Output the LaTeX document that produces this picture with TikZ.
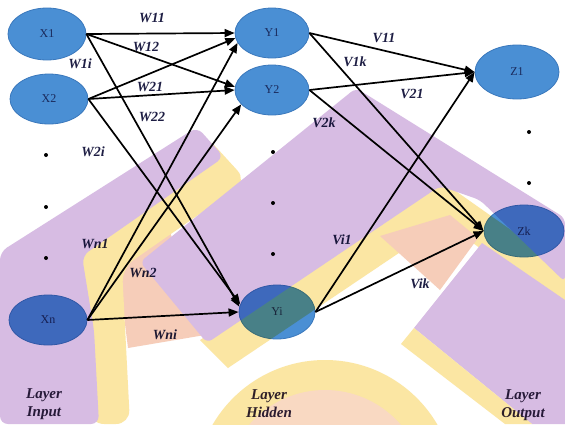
\documentclass[tikz,border=0pt]{standalone}
\usepackage{fontspec}
\setmainfont{Liberation Serif}
\usetikzlibrary{arrows.meta,shapes.geometric}
\definecolor{nodeblue}{HTML}{4A8FD4}
\definecolor{nodeedge}{HTML}{3A78BC}
\definecolor{lav}{HTML}{D7BCE3}
\definecolor{yel}{HTML}{FBE6A3}
\definecolor{pch}{HTML}{F6CDB9}
\definecolor{pchl}{HTML}{F9D9C2}
\definecolor{lbl}{HTML}{1E1E44}
\definecolor{ntext}{HTML}{1A2A5C}
\definecolor{laytext}{HTML}{2E2240}
\begin{document}
\begin{tikzpicture}[x=1pt,y=-1pt,
  neuron/.style={ellipse,fill=nodeblue,draw=nodeedge,line width=0.8pt,inner sep=0pt,
    text=ntext,font=\fontsize{12}{14}\selectfont},
  arr/.style={draw=black,line width=1.7pt,-{Triangle[length=10pt,width=8pt]}},
  wl/.style={text=lbl,font=\fontsize{14}{16}\selectfont\bfseries\itshape,inner sep=1pt},
  layerlbl/.style={text=laytext,align=center,font=\fontsize{15}{18}\selectfont\bfseries\itshape},
  dotmark/.style={circle,fill=black,inner sep=0pt,minimum size=4pt}]
\useasboundingbox[fill=white] (0,0) rectangle (565,424);

% neurons
\node[neuron,minimum width=78pt,minimum height=52pt] (X1) at (47,34) {X1};
\node[neuron,minimum width=78pt,minimum height=50pt] (X2) at (49,99) {X2};
\node[neuron,minimum width=78pt,minimum height=50pt] (Xn) at (48,320) {Xn};
\node[neuron,minimum width=74pt,minimum height=50pt] (Y1) at (272,33) {Y1};
\node[neuron,minimum width=74pt,minimum height=50pt] (Y2) at (272,90) {Y2};
\node[neuron,minimum width=76pt,minimum height=54pt] (Yi) at (277,312) {Yi};
\node[neuron,minimum width=84pt,minimum height=54pt] (Z1) at (517,72) {Z1};
\node[neuron,minimum width=80pt,minimum height=52pt] (Zk) at (524,231) {Zk};

% dots
\node[dotmark] (di1) at (46,155) {};
\node[dotmark] (di2) at (46,207) {};
\node[dotmark] (di3) at (46,258) {};
\node[dotmark] (dh1) at (273,152) {};
\node[dotmark] (dh2) at (273,203) {};
\node[dotmark] (dh3) at (273,254) {};
\node[dotmark] (do1) at (529,132) {};
\node[dotmark] (do2) at (529,183) {};

% input -> hidden
\draw[arr] (X1.east) -- (Y1.west);
\draw[arr] (X1.east) -- (Y2.175);
\draw[arr] (X1.east) -- (Yi.172);
\draw[arr] (X2.east) -- (Y1.188);
\draw[arr] (X2.east) -- (Y2.west);
\draw[arr] (X2.east) -- (Yi.168);
\draw[arr] (Xn.east) -- (Y1.196);
\draw[arr] (Xn.east) -- (Y2.205);
\draw[arr] (Xn.east) -- (Yi.west);
% hidden -> output
\draw[arr] (Y1.east) -- (Z1.west);
\draw[arr] (Y1.east) -- (Zk.west);
\draw[arr] (Y2.east) -- (Z1.west);
\draw[arr] (Y2.east) -- (Zk.west);
\draw[arr] (Yi.east) -- (Z1.west);
\draw[arr] (Yi.east) -- (Zk.west);

% weight labels
\node[wl] (lW11) at (152,18) {W11};
\node[wl] (lW12) at (146,47) {W12};
\node[wl] (lW1i) at (80,64) {W1i};
\node[wl] (lW21) at (150,87) {W21};
\node[wl] (lW22) at (152,117) {W22};
\node[wl] (lW2i) at (93,152) {W2i};
\node[wl] (lWn1) at (95,244) {Wn1};
\node[wl] (lWn2) at (143,273) {Wn2};
\node[wl] (lWni) at (165,335) {Wni};
\node[wl] (lV11) at (384,38) {V11};
\node[wl] (lV1k) at (355,62) {V1k};
\node[wl] (lV21) at (412,94) {V21};
\node[wl] (lV2k) at (324,123) {V2k};
\node[wl] (lVi1) at (342,240) {Vi1};
\node[wl] (lVik) at (420,284) {Vik};

% layer labels
\node[layerlbl] (LI) at (44,404) {Layer\\Input};
\node[layerlbl] (LH) at (269,404) {Layer\\Hidden};
\node[layerlbl] (LO) at (523,405) {Layer\\Output};

% background watermark, multiplied over everything
\begin{scope}[blend mode=multiply]
\begin{scope}[transparency group]
  \fill[pch] (118,268) -- (170,232) -- (205,335) -- (128,348) -- cycle;
  \fill[yel,rounded corners=14pt] (205,135) -- (247,181) -- (122,268) -- (130,424) -- (90,424) -- (68,258) -- cycle;
  \fill[lav,rounded corners=8pt] (0,252) -- (197,127) -- (224,157) -- (82,256) -- (94,330) -- (99,424) -- (0,424) -- cycle;
  \fill[yel] (200,340) -- (440,180) -- (565,268) -- (565,312) -- (445,222) -- (228,368) -- cycle;
  \fill[pch] (380,236) -- (450,215) -- (478,238) -- (440,290) -- cycle;
  \fill[lav,rounded corners=6pt] (140,262) -- (356,88) -- (565,218) -- (565,282) -- (480,200) -- (440,186) -- (207,343) -- cycle;
  \fill[lav] (414,328) -- (482,243) -- (565,300) -- (565,424) -- (532,424) -- cycle;
  \fill[yel] (414,328) -- (532,424) -- (505,424) -- (401,344) -- cycle;
  \fill[yel] (325,490) circle (130);
  \fill[pchl] (325,490) circle (100);
\end{scope}
\end{scope}
\end{tikzpicture}
\end{document}
